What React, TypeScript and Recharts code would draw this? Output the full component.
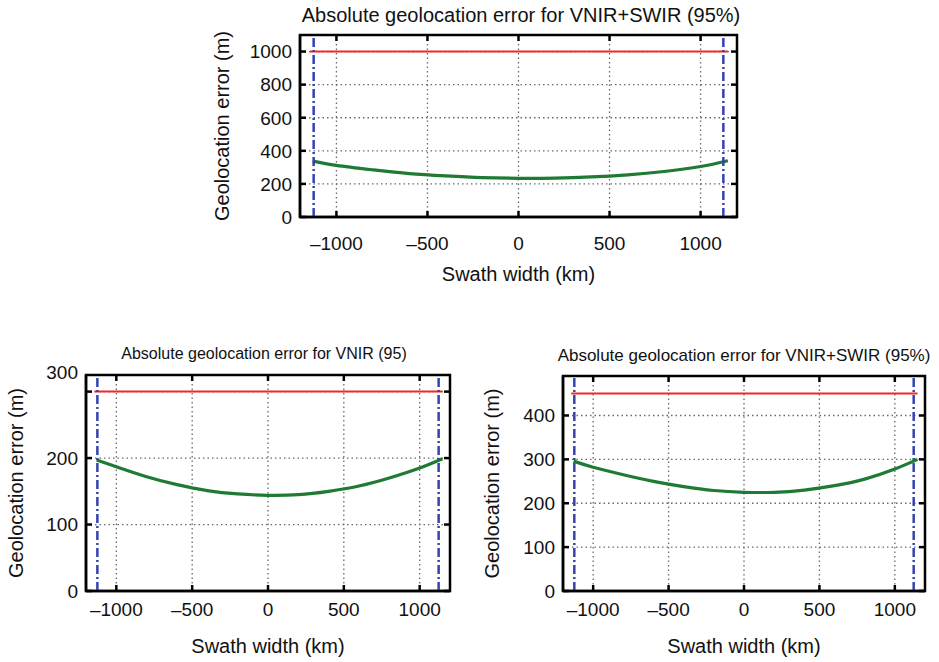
import { LineChart, Line, XAxis, YAxis, CartesianGrid, ReferenceLine, ReferenceArea } from 'recharts';

const FONT = '"Liberation Sans", Arial, Helvetica, sans-serif';

// swath positions (km) where the error curves were read
const swath = [-1130, -1000, -800, -600, -400, -200, 0, 200, 400, 600, 800, 1000, 1150];
const limitSpan = [-1145, 1150];
const swathEdges = [-1125, 1125];
const xTicks = [-1000, -500, 0, 500, 1000];
const xDomain = [-1200, 1200];

// top panel: VNIR+SWIR
const topError = [338, 312, 285, 262, 248, 238, 234, 235, 242, 255, 275, 305, 340];
const topLimit = 1000;
const topTicks = [0, 200, 400, 600, 800, 1000];

// bottom left: VNIR
const vnirError = [197, 187, 172, 160, 151, 146, 144, 145, 150, 158, 170, 185, 199];
const vnirLimit = 300;
const vnirTicks = [0, 100, 200, 300];

// bottom right: VNIR+SWIR
const bothError = [296, 282, 265, 250, 238, 229, 225, 225, 230, 240, 255, 278, 300];
const bothLimit = 450;
const bothTicks = [0, 100, 200, 300, 400];

const fmtX = (v: number) => (v < 0 ? `\u2013${Math.abs(v)}` : `${v}`);
const TICK_LEN = 6;

// bottom tick label + inward tick marks on bottom and top of the frame
function XTick(props: any) {
  const { x, y, payload, m, plotH } = props;
  const base = y - m;
  return (
    <g>
      <line x1={x} x2={x} y1={base} y2={base - TICK_LEN} stroke="#000" strokeWidth={2.5} />
      <line x1={x} x2={x} y1={base - plotH} y2={base - plotH + TICK_LEN} stroke="#000" strokeWidth={2.5} />
      <text x={x} y={y} dy="0.71em" textAnchor="middle" fontSize={19} fontFamily={FONT} fill="#111">
        {fmtX(payload.value)}
      </text>
    </g>
  );
}

// left tick label + inward tick marks on left and right of the frame
function YTick(props: any) {
  const { x, y, payload, m, plotW, lift } = props;
  const shift = lift && lift[payload.value] ? lift[payload.value] : 0;
  const base = x + m;
  return (
    <g>
      <line x1={base} x2={base + TICK_LEN} y1={y} y2={y} stroke="#000" strokeWidth={2.5} />
      <line x1={base + plotW} x2={base + plotW - TICK_LEN} y1={y} y2={y} stroke="#000" strokeWidth={2.5} />
      <text x={x} y={y - shift} dy="0.36em" textAnchor="end" fontSize={19} fontFamily={FONT} fill="#111">
        {payload.value}
      </text>
    </g>
  );
}

function Panel(props: any) {
  const { left, top, width, height, plot, yDomain, yTicks, errors, limit, title, titleCx, titleTop, titleSize, yLabelX, xTickMargin, lift } = props;
  const data = swath.map((x, i) => ({ x, err: errors[i] }));
  const limitData = limitSpan.map((x) => ({ x, lim: limit }));
  const frame = { stroke: '#000', strokeWidth: 2.5 };
  const plotW = plot.right - plot.left;
  const plotH = plot.bottom - plot.top;
  const yMargin = 8;
  return (
    <div style={{ position: 'absolute', left, top, width, height }}>
      <div style={{ position: 'absolute', left: 0, top: 0 }}>
        <LineChart
          width={width}
          height={height}
          margin={{ top: plot.top, right: width - plot.right, bottom: 0, left: 0 }}
        >
          <CartesianGrid stroke="#6a6a6a" strokeDasharray="1.5 3" strokeWidth={1.3} />
          <XAxis
            type="number"
            dataKey="x"
            domain={xDomain}
            allowDataOverflow
            ticks={xTicks}
            interval={0}
            height={height - plot.bottom}
            tickSize={0}
            tickMargin={xTickMargin}
            axisLine={frame}
            tickLine={false}
            tick={(p: any) => <XTick {...p} m={xTickMargin} plotH={plotH} />}
            label={{ value: 'Swath width (km)', position: 'insideBottom', offset: 9, style: { fontSize: 20, fontFamily: FONT, fill: '#111' } }}
          />
          <YAxis
            type="number"
            domain={yDomain}
            allowDataOverflow
            ticks={yTicks}
            interval={0}
            width={plot.left}
            tickSize={0}
            tickMargin={yMargin}
            axisLine={frame}
            tickLine={false}
            tick={(p: any) => <YTick {...p} m={yMargin} plotW={plotW} lift={lift} />}
            label={{ value: 'Geolocation error (m)', angle: -90, position: 'insideLeft', offset: yLabelX, style: { textAnchor: 'middle', fontSize: 20, fontFamily: FONT, fill: '#111' } }}
          />
          <ReferenceArea x1={xDomain[0]} x2={xDomain[1]} y1={yDomain[0]} y2={yDomain[1]} fill="none" stroke="#000" strokeWidth={2.5} fillOpacity={0} />
          <Line data={limitData} dataKey="lim" stroke="#f02828" strokeWidth={2} dot={false} isAnimationActive={false} />
          <Line data={data} dataKey="err" type="natural" stroke="#1f7a34" strokeWidth={3.2} dot={false} isAnimationActive={false} />
          {swathEdges.map((v) => (
            <ReferenceLine key={v} x={v} stroke="#3344b0" strokeWidth={2.5} strokeDasharray="9 3 2 3" />
          ))}
        </LineChart>
      </div>
      <div
        style={{
          position: 'absolute',
          left: titleCx - 300,
          width: 600,
          top: titleTop,
          textAlign: 'center',
          fontSize: titleSize,
          lineHeight: `${titleSize}px`,
          fontFamily: FONT,
          color: '#111',
          whiteSpace: 'nowrap',
        }}
      >
        {title}
      </div>
    </div>
  );
}

export default function App() {
  return (
    <div style={{ position: 'absolute', left: 0, top: 0, width: 939, height: 662, background: '#fff' }}>
      <Panel
        left={200}
        top={0}
        width={560}
        height={290}
        plot={{ left: 100, right: 537, top: 35, bottom: 217 }}
        yDomain={[0, 1100]}
        yTicks={topTicks}
        errors={topError}
        limit={topLimit}
        title="Absolute geolocation error for VNIR+SWIR (95%)"
        titleCx={321}
        titleTop={5}
        titleSize={20}
        yLabelX={22}
        xTickMargin={20}
      />
      <Panel
        left={0}
        top={340}
        width={470}
        height={322}
        plot={{ left: 86, right: 450, top: 35, bottom: 251 }}
        yDomain={[0, 325]}
        yTicks={vnirTicks}
        errors={vnirError}
        limit={vnirLimit}
        title="Absolute geolocation error for VNIR (95)"
        titleCx={264}
        titleTop={6}
        titleSize={16}
        yLabelX={16}
        xTickMargin={12}
        lift={{ 300: 19 }}
      />
      <Panel
        left={470}
        top={340}
        width={469}
        height={322}
        plot={{ left: 93, right: 455, top: 36, bottom: 251 }}
        yDomain={[0, 490]}
        yTicks={bothTicks}
        errors={bothError}
        limit={bothLimit}
        title="Absolute geolocation error for VNIR+SWIR (95%)"
        titleCx={274}
        titleTop={7}
        titleSize={17}
        yLabelX={22}
        xTickMargin={12}
      />
    </div>
  );
}
